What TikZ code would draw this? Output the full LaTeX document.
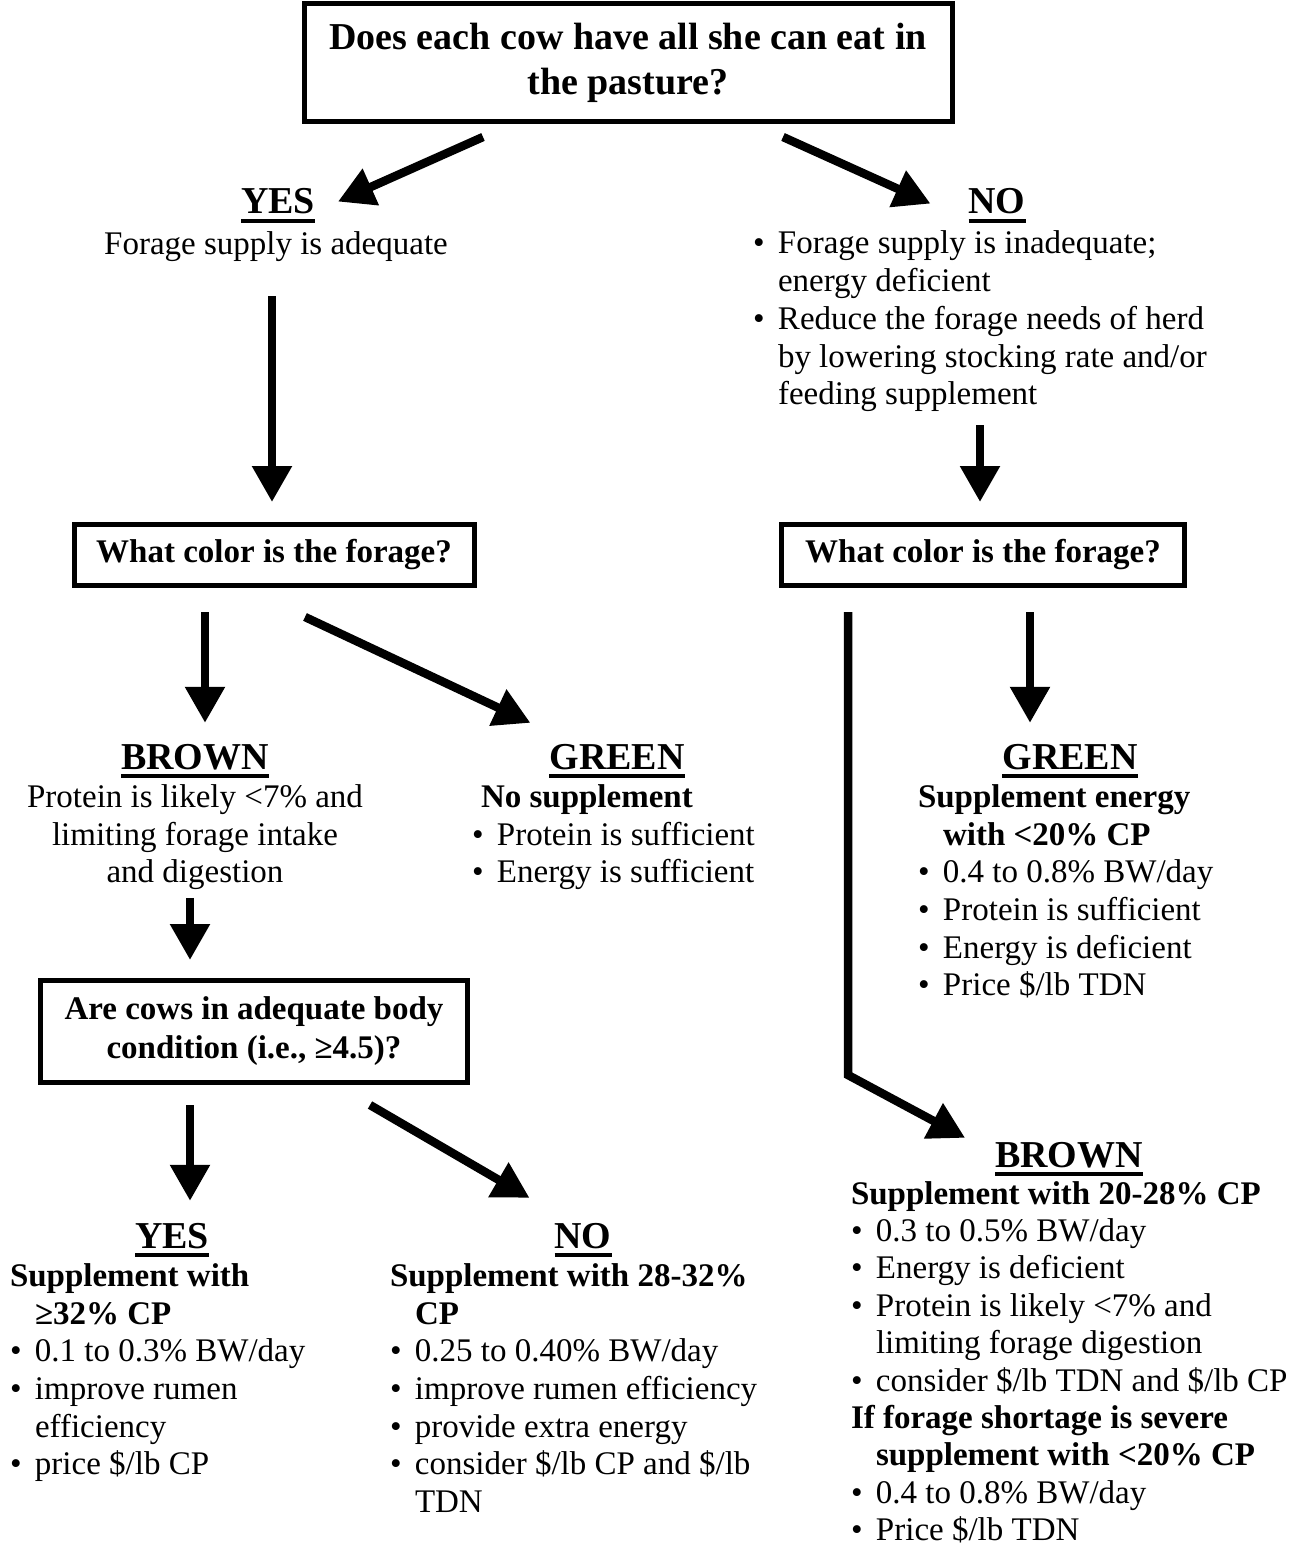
\documentclass[tikz,border=0pt]{standalone}
\usepackage{fontspec}
\setmainfont{Liberation Serif}
\usetikzlibrary{arrows.meta,calc}
\newcommand{\itm}{\makebox[25pt][l]{\textbullet}}
\newcommand{\ind}{\hspace*{25pt}}

\begin{document}
\begin{tikzpicture}
  [x=1pt, y=-1pt,
   qbox/.style={rectangle, draw, line width=5pt, align=center, inner sep=0pt, outer sep=0pt, font=\fontsize{33}{39}\selectfont\bfseries},
   head/.style={anchor=base, inner sep=0pt, outer sep=0pt, font=\fontsize{38}{44}\selectfont\bfseries},
   txt/.style={anchor=north west, align=left, inner sep=0pt, outer sep=0pt, font=\fontsize{33}{37.7}\selectfont},
   arr/.style={-{Triangle[length=36pt,width=38pt]}, line width=8.5pt}]
  \useasboundingbox (0,0) rectangle (1296,1549);

  \node[qbox, minimum width=648pt, minimum height=118pt, font=\fontsize{38}{45}\selectfont\bfseries] (title) at (628,63) {Does each cow have all she can eat in\\the pasture?};
  \node[head] (yes1) at (278,214) {YES};
  \node[head] (no1) at (997,214) {NO};
  \node[txt, anchor=base] (adequate) at (276,254) {Forage supply is adequate};
  \node[txt] (nolist) at (753,227.6) {\strut\itm Forage supply is inadequate;\\
    \ind energy deficient\\
    \itm Reduce the forage needs of herd\\
    \ind by lowering stocking rate and/or\\
    \ind feeding supplement};

  \node[qbox, minimum width=400pt, minimum height=61pt] (q2l) at (274,555) {What color is the forage?};
  \node[qbox, minimum width=403pt, minimum height=61pt] (q2r) at (983,555) {What color is the forage?};

  \node[head] (brownl) at (195,769) {BROWN};
  \node[txt, anchor=north, align=center] (brownltxt) at (195,781) {\strut Protein is likely <7\% and\\
    limiting forage intake\\
    and digestion};
  \node[head] (greenl) at (617,769) {GREEN};
  \node[txt] (greenltxt) at (472,781) {\strut\hspace*{9pt}\textbf{No supplement}\\
    \itm Protein is sufficient\\
    \itm Energy is sufficient};
  \node[head] (greenr) at (1070,769) {GREEN};
  \node[txt] (greenrtxt) at (918,781) {\strut\textbf{Supplement energy}\\
    \ind\textbf{with <20\% CP}\\
    \itm 0.4 to 0.8\% BW/day\\
    \itm Protein is sufficient\\
    \itm Energy is deficient\\
    \itm Price \$/lb TDN};

  \node[qbox, minimum width=427pt, minimum height=102pt] (q3) at (254,1031.5) {Are cows in adequate body\\condition (i.e., ≥4.5)?};

  \node[head] (yes3) at (172,1248) {YES};
  \node[txt] (yes3txt) at (10,1260) {\strut\textbf{Supplement with}\\
    \ind\textbf{≥32\% CP}\\
    \itm 0.1 to 0.3\% BW/day\\
    \itm improve rumen\\
    \ind efficiency\\
    \itm price \$/lb CP};
  \node[head] (no3) at (583,1248) {NO};
  \node[txt] (no3txt) at (390,1260) {\strut\textbf{Supplement with 28-32\%}\\
    \ind\textbf{CP}\\
    \itm 0.25 to 0.40\% BW/day\\
    \itm improve rumen efficiency\\
    \itm provide extra energy\\
    \itm consider \$/lb CP and \$/lb\\
    \ind TDN};
  \node[head] (brownr) at (1069,1167) {BROWN};
  \node[txt, font=\fontsize{33}{37.4}\selectfont] (brownrtxt) at (851,1178) {\strut\textbf{Supplement with 20-28\% CP}\\
    \itm 0.3 to 0.5\% BW/day\\
    \itm Energy is deficient\\
    \itm Protein is likely <7\% and\\
    \ind limiting forage digestion\\
    \itm consider \$/lb TDN and \$/lb CP\\
    \textbf{If forage shortage is severe}\\
    \ind\textbf{supplement with <20\% CP}\\
    \itm 0.4 to 0.8\% BW/day\\
    \itm Price \$/lb TDN};

  \foreach \h in {yes1,no1,brownl,greenl,greenr,brownr,yes3,no3}
    \draw[line width=4pt] ([yshift=-6.5pt]\h.base west) -- ([yshift=-6.5pt]\h.base east);

  \draw[arr] ($(title.south)+(-145,15)$) -- ($(yes1.east)+(23,0)$);
  \draw[arr] ($(title.south)+(155,15)$) -- ($(no1.west)+(-38,2)$);
  \draw[arr] ($(adequate.south)+(-4,35)$) -- ($(q2l.north)+(-2,-22.5)$);
  \draw[arr] ($(q2r.north)+(-3,-99.5)$) -- ($(q2r.north)+(-3,-22.5)$);
  \draw[arr] ($(q2l.south)+(-69,26.5)$) -- ($(brownl.north)+(10,-21)$);
  \draw[arr] ($(q2l.south)+(31,31.5)$) -- ($(greenl.north west)+(-19,-21)$);
  \draw[arr] ($(q2r.south)+(47,26.5)$) -- ($(greenr.north)+(-40,-21)$);
  \draw[arr] ($(q2r.south)+(-135,26.5)$) -- ++(0,463) -- ($(brownr.north west)+(-30,-4)$);
  \draw[arr] ($(brownltxt.south)+(-5,8)$) -- ($(q3.north)+(-64,-20.5)$);
  \draw[arr] ($(q3.south)+(-64,22.5)$) -- ($(yes3.north)+(18,-22)$);
  \draw[arr] ($(q3.south)+(116,22.5)$) -- ($(no3.north west)+(-25,-25)$);
\end{tikzpicture}
\end{document}
